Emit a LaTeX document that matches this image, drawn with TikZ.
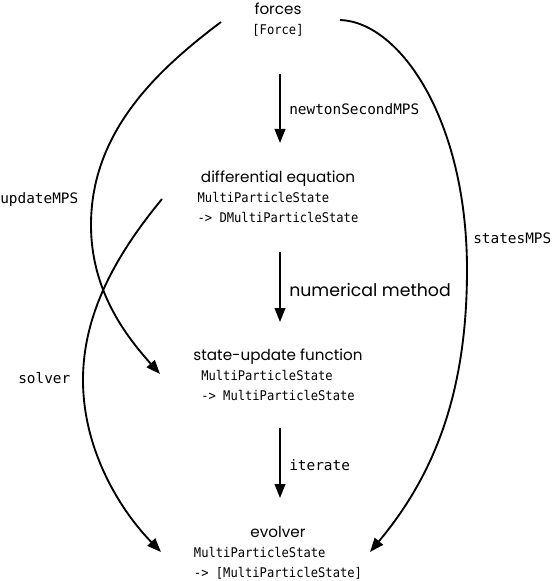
\documentclass[tikz,border=0pt]{standalone}
\usepackage{fontspec}
\setmainfont{Poppins}
\newfontfamily\headfont{Poppins}
\newfontfamily\labfont{DejaVu Sans Mono}
\newfontfamily\typfont[FakeStretch=0.91]{DejaVu Sans Mono}
\usetikzlibrary{arrows.meta}
\begin{document}
\begin{tikzpicture}[x=0.75pt,y=-0.75pt,
  head/.style={font=\headfont\fontsize{11.4}{14}\selectfont, inner sep=0pt, anchor=base},
  bighead/.style={font=\headfont\fontsize{13}{16}\selectfont, inner sep=0pt, anchor=base west},
  typ/.style={font=\typfont\fontsize{10}{15}\selectfont, inner sep=0pt, anchor=base},
  lab/.style={font=\labfont\fontsize{10.8}{13}\selectfont, inner sep=0pt, anchor=base west},
  arr/.style={line width=1.4pt, -{Triangle[length=10.5pt,width=8pt]}}]
\useasboundingbox (0,0) rectangle (552,581);

% nodes
\node[head] (forces) at (278,15) {forces};
\node[typ] (forcesT) at (278,35) {[Force]};
\node[head] (diffeq) at (278,182) {differential equation};
\node[typ] (diffeqT) at (278,222) {\begin{tabular}[b]{@{}l@{}}MultiParticleState\\-> DMultiParticleState\end{tabular}};
\node[head] (stateupd) at (278,360) {state-update function};
\node[typ] (stateupdT) at (278,400) {\begin{tabular}[b]{@{}l@{}}MultiParticleState\\-> MultiParticleState\end{tabular}};
\node[head] (evolver) at (278,537) {evolver};
\node[typ] (evolverT) at (278,577) {\begin{tabular}[b]{@{}l@{}}MultiParticleState\\-> [MultiParticleState]\end{tabular}};

% labels
\node[lab] (l1) at (289,115) {newtonSecondMPS};
\node[bighead] (l2) at (289,296) {numerical method};
\node[lab] (l3) at (289,470) {iterate};
\node[lab] (l4) at (0,203) {updateMPS};
\node[lab] (l5) at (18,383) {solver};
\node[lab] (l6) at (473,243) {statesMPS};

% straight arrows
\draw[arr] ([shift={(2,39)}]forcesT.base) -- ([shift={(2,-39)}]diffeq.base);
\draw[arr] ([shift={(2,30)}]diffeqT.base) -- ([shift={(2,-38)}]stateupd.base);
\draw[arr] ([shift={(2,28)}]stateupdT.base) -- ([shift={(2,-39)}]evolver.base);

% curved connectors
\coordinate (uS) at (221,22);
\coordinate (uE) at (160,374);
\coordinate (sS) at (162,199);
\coordinate (sE) at (161,552);
\coordinate (tS) at (340,20);
\coordinate (tE) at (370,552);
\draw[arr] (uS) .. controls (160,68) and (91,130) .. (91,225) .. controls (91,290) and (125,335) .. (uE);
\draw[arr] (sS) .. controls (120,250) and (83,310) .. (83,380) .. controls (83,450) and (120,510) .. (sE);
\draw[arr] (tS) .. controls (400,22) and (467,120) .. (467,270) .. controls (467,400) and (430,480) .. (tE);
\end{tikzpicture}
\end{document}
